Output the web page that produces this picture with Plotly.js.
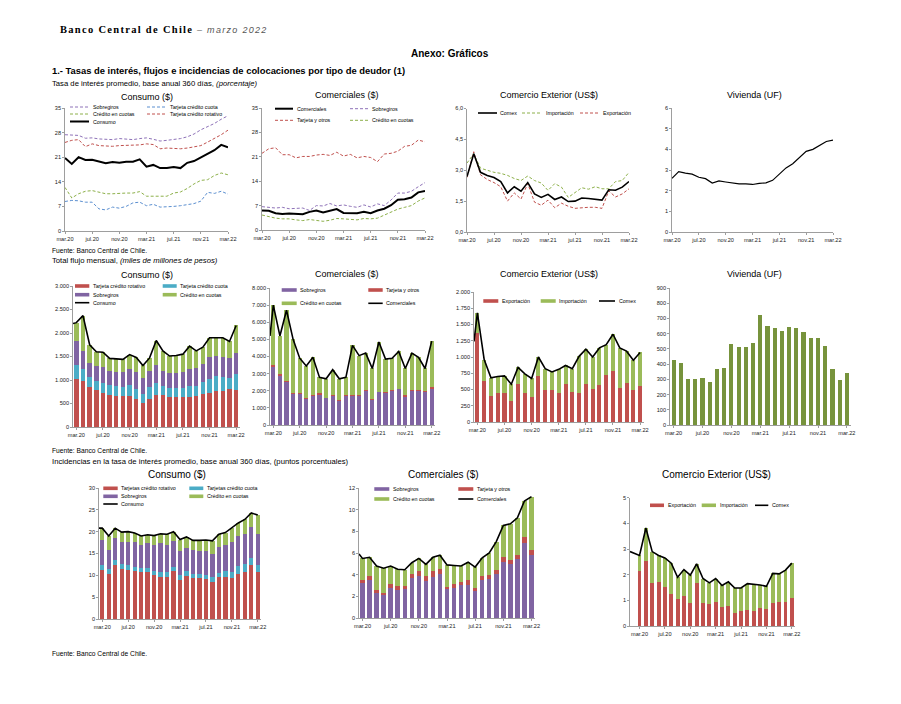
<!DOCTYPE html>
<html><head><meta charset="utf-8">
<script src="https://cdn.plot.ly/plotly-3.0.1.min.js"></script>
<style>html,body{margin:0;padding:0;background:#fff;}#chart{width:901px;height:704px;}</style>
</head><body><div id="chart"></div>
<script>
// ---------- categories ----------
const months = ['mar.20','abr.20','may.20','jun.20','jul.20','ago.20','sep.20','oct.20','nov.20','dic.20','ene.21','feb.21',
  'mar.21','abr.21','may.21','jun.21','jul.21','ago.21','sep.21','oct.21','nov.21','dic.21','ene.22','feb.22','mar.22'];
const tickIdx = [0,4,8,12,16,20,24];

// ---------- Tasas de interés (porcentaje) ----------
const consRateSobregiros = [27.4,27.4,27.2,26.4,26.5,26.2,26.0,26.0,26.3,26.1,26.0,26.3,26.5,26.1,25.6,25.8,26.0,26.3,26.8,27.6,28.8,29.6,30.6,31.8,32.8];
const consRateTjCuota = [8.4,8.7,8.6,8.2,8.2,6.3,6.0,6.8,6.5,7.0,8.0,8.2,7.2,7.6,6.8,6.8,7.0,7.2,7.6,7.8,8.5,11.0,10.7,11.3,10.5];
const consRateCuotas = [12.4,9.4,10.6,11.3,11.5,11.1,10.6,10.6,10.8,10.8,10.8,11.2,9.9,9.9,9.7,9.9,10.8,11.1,12.1,13.4,14.4,14.6,15.8,16.5,16.0];
const consRateTjRotativo = [25.2,25.8,26.0,24.0,24.8,24.3,24.2,24.1,24.3,24.4,24.3,24.5,24.8,24.6,23.4,23.6,23.5,23.4,23.6,24.0,24.3,25.3,26.3,27.4,28.7];
const consRateConsumo = [20.8,19.1,21.0,20.2,20.3,19.9,19.3,19.6,19.4,19.7,19.7,20.4,18.3,18.8,17.9,17.9,18.2,17.9,19.4,19.9,21.0,22.0,23.0,24.5,23.8];

const comRateComerciales = [5.6,5.5,4.8,4.6,4.7,4.5,4.5,5.2,5.6,5.0,5.6,6.0,4.9,4.9,4.8,5.2,4.8,5.6,6.1,7.1,8.7,8.8,9.3,10.8,11.2];
const comRateSobregiros = [6.7,6.5,6.3,6.5,6.1,6.2,6.3,5.6,7.0,6.9,7.6,6.9,7.2,6.8,6.5,7.2,6.6,7.5,7.0,8.6,10.6,10.6,11.1,12.4,13.6];
const comRateTarjeta = [22.0,23.3,23.6,21.6,21.6,20.7,21.1,21.1,21.5,21.7,21.4,22.3,21.2,21.7,20.7,21.1,20.8,19.6,21.8,22.0,22.6,24.0,24.3,25.8,25.3];
const comRateCuotas = [4.3,3.8,3.4,3.2,3.2,2.9,2.7,3.0,2.7,2.5,2.8,3.3,3.2,3.1,2.9,3.3,3.2,3.4,4.3,5.2,6.0,6.5,7.0,8.3,9.2];

const cxRateComex = [2.70,3.80,2.90,2.75,2.65,2.45,1.90,2.20,1.98,2.40,1.85,1.68,1.83,1.58,1.70,1.48,1.50,1.65,1.63,1.60,1.55,2.05,2.03,2.18,2.45];
const cxRateImport = [3.35,3.80,3.10,3.00,2.90,2.85,2.75,2.60,2.50,2.72,2.50,2.38,2.02,2.35,2.18,1.68,1.90,2.15,2.08,2.20,2.10,2.10,2.45,2.50,2.90];
const cxRateExport = [2.65,3.90,2.78,2.55,2.40,2.20,1.50,1.90,1.60,2.35,1.45,1.30,1.55,1.18,1.40,1.25,1.15,1.18,1.20,1.20,1.15,2.00,1.70,1.85,2.10];

const vivRate = [2.60,2.92,2.85,2.80,2.65,2.58,2.37,2.47,2.42,2.38,2.33,2.33,2.30,2.35,2.38,2.50,2.80,3.10,3.30,3.60,3.90,4.00,4.20,4.38,4.45];

// ---------- Total flujo mensual (miles de millones) ----------
const consFlowTjRotativo = [1030,970,860,790,730,690,650,650,650,590,520,590,680,680,630,630,630,640,670,700,720,770,770,810,790];
const consFlowTjCuota = [290,260,210,190,210,200,220,210,240,220,190,270,260,200,210,210,210,240,210,260,310,310,300,240,340];
const consFlowSobregiros = [500,380,300,310,330,310,300,310,350,370,330,330,380,320,300,300,320,350,370,370,450,430,410,410,450];
const consFlowCuotas = [400,760,380,310,320,260,280,270,300,300,270,280,520,420,370,380,390,490,370,370,420,390,420,360,580];
const consFlowTotal = [2220,2370,1750,1600,1590,1460,1450,1440,1540,1480,1310,1470,1840,1620,1510,1520,1550,1720,1620,1700,1900,1900,1900,1820,2160];
const consFlowPrev = 2200;

const comFlowSobregiros = [3400,2850,2500,1800,1800,1500,1700,1780,1550,1700,1400,1700,1700,1680,2000,1480,1900,1880,2000,2080,1650,1980,1980,1920,2100];
const comFlowTarjeta = [100,100,80,50,80,50,60,80,30,50,50,50,80,70,50,50,50,50,60,50,80,70,80,60,100];
const comFlowCuotas = [3500,2250,4120,3150,2020,1900,2190,920,1120,1480,1250,1030,2870,2300,2150,1770,2900,1920,1840,2170,1570,2150,1890,1320,2700];
const comFlowTotal = [7000,5200,6700,5000,3900,3450,3950,2780,2700,3230,2700,2780,4650,4050,4200,3300,4850,3850,3900,4300,3300,4200,3950,3300,4900];
const comFlowPrev = 5200;

const cxFlowExport = [1370,630,400,450,450,330,590,450,390,710,500,500,450,590,460,440,590,510,570,720,790,520,600,490,560];
const cxFlowImport = [310,330,280,250,260,250,250,290,280,290,320,270,360,280,360,570,530,490,570,470,560,620,490,460,510];
const cxFlowTotal = [1680,960,680,700,710,580,840,740,670,1000,820,770,810,870,820,1010,1120,1000,1140,1190,1350,1140,1090,950,1070];
const cxFlowPrev = 1240;

const vivFlow = [425,410,305,300,310,280,370,375,530,510,515,540,725,650,635,618,645,638,612,572,572,518,365,295,340];

// ---------- Incidencias (puntos porcentuales) ----------
const consIncTjRotativo = [11.2,10.4,12.4,11.5,11.3,11.1,10.8,10.8,10.0,9.6,9.6,11.0,9.0,9.9,9.3,9.4,9.1,8.5,9.6,9.7,9.4,10.4,10.8,12.3,10.7];
const consIncTjCuota = [1.2,1.0,1.2,1.1,1.0,0.9,0.8,0.9,0.9,1.2,1.2,0.9,1.1,1.1,1.1,1.0,1.0,1.1,0.9,1.2,1.3,1.7,1.8,1.6,1.7];
const consIncSobregiros = [5.8,4.5,5.0,5.1,5.4,5.6,5.3,5.6,6.0,6.5,6.1,5.9,5.5,5.3,5.3,5.2,5.5,5.4,6.0,6.0,6.9,6.8,6.9,7.1,7.1];
const consIncCuotas = [2.6,3.1,2.2,2.2,2.3,2.1,2.1,2.0,2.2,2.2,2.5,2.2,2.6,2.5,2.3,2.4,2.5,2.9,2.9,2.9,3.3,3.1,3.3,3.3,4.3];
const consIncTotal = [20.8,19.0,20.8,19.9,20.0,19.7,19.0,19.3,19.1,19.5,19.4,20.0,18.2,18.8,18.0,18.0,18.1,17.9,19.4,19.8,20.9,22.0,22.8,24.3,23.8];
const consIncPrev = 20.8;

const comIncSobregiros = [3.2,3.5,2.3,2.1,2.75,2.6,2.65,3.7,3.85,3.45,3.8,4.05,2.65,2.75,3.05,3.05,2.5,3.5,3.6,4.05,5.2,4.95,5.45,6.95,5.8];
const comIncTarjeta = [0.3,0.35,0.25,0.25,0.35,0.4,0.3,0.4,0.45,0.4,0.5,0.45,0.25,0.35,0.25,0.45,0.25,0.35,0.35,0.35,0.45,0.4,0.4,0.5,0.45];
const comIncCuotas = [2.0,1.75,2.25,2.25,1.7,1.5,1.5,1.0,1.2,1.1,1.3,1.3,2.0,1.75,1.5,1.65,1.95,1.7,2.05,2.65,2.9,3.35,3.4,3.35,4.95];
const comIncTotal = [5.5,5.6,4.8,4.6,4.8,4.5,4.45,5.1,5.5,4.95,5.6,5.8,4.9,4.85,4.8,5.15,4.7,5.55,6.0,7.05,8.55,8.7,9.25,10.8,11.2];
const comIncPrev = 5.9;

const cxIncExport = [2.15,2.55,1.68,1.72,1.52,1.25,1.05,1.18,0.90,1.66,0.88,0.87,0.92,0.75,0.78,0.52,0.60,0.62,0.60,0.72,0.67,0.90,0.92,0.95,1.10];
const cxIncImport = [0.60,1.27,1.22,1.03,1.13,1.20,0.85,1.02,1.08,0.76,0.97,0.81,0.93,0.83,0.94,0.96,0.88,1.03,1.03,0.88,0.88,1.15,1.11,1.23,1.35];
const cxIncTotal = [2.75,3.82,2.90,2.75,2.65,2.45,1.90,2.20,1.98,2.42,1.85,1.68,1.85,1.58,1.72,1.48,1.48,1.65,1.63,1.60,1.55,2.05,2.03,2.18,2.45];
const cxIncPrev = 2.9;

// ---------- styling ----------
const C = {red:'#C0504D', cyan:'#4BACC6', purple:'#8064A2', green:'#9BBB59', blue:'#4F81BD', olive:'#77933C', black:'#000000',
  dpurple:'#8E72B8', dred:'#C0504D', dgreen:'#8DB04A', dblue:'#5B8FD0'};
const FONT = 'Liberation Sans, Arial, sans-serif';
const W = 901, H = 704;
const X = v => v / W;
const Y = v => 1 - v / H;
const idx = months.map((m, i) => i);
const tickText = tickIdx.map(i => months[i]);
const DASH = '3px,2px';

const layout = {
  width: W, height: H, margin: {l:0, r:0, t:0, b:0}, paper_bgcolor:'#fff', plot_bgcolor:'rgba(0,0,0,0)',
  showlegend:false, barmode:'stack', separators:',.', font:{family:FONT, color:'#000'},
  annotations:[], shapes:[]
};
const traces = [];

function ax(n, box, xRange, yRange, dtick, fmt) {
  const xs = n === 1 ? 'xaxis' : 'xaxis' + n, ys = n === 1 ? 'yaxis' : 'yaxis' + n;
  const common = {showline:true, linecolor:'#868686', linewidth:0.8, ticks:'outside', ticklen:2, tickcolor:'#868686', tickwidth:0.8,
    tickfont:{size:5.6, color:'#222', family:FONT}, showgrid:false, zeroline:false, fixedrange:true};
  layout[xs] = Object.assign({}, common, {domain:[X(box.l), X(box.r)], range:xRange, anchor: n===1?'y':'y'+n,
    tickmode:'array', tickvals:tickIdx, ticktext:tickText});
  layout[ys] = Object.assign({}, common, {domain:[Y(box.b), Y(box.t)], range:yRange, anchor: n===1?'x':'x'+n,
    tick0:0, dtick:dtick, tickformat:fmt});
  return {xaxis: n===1?'x':'x'+n, yaxis: n===1?'y':'y'+n};
}
function line(a, y, color, width, dash, name, xs) {
  traces.push(Object.assign({type:'scatter', mode:'lines', x: xs || idx, y:y, name:name, hoverinfo:'skip',
    line:{color:color, width:width, dash:dash || 'solid'}}, a));
}
function bar(a, y, color, width, name) {
  traces.push(Object.assign({type:'bar', x:idx, y:y, name:name, width:width, marker:{color:color, line:{width:0}}, hoverinfo:'skip'}, a));
}
function txt(x, y, t, size, opt) {
  layout.annotations.push(Object.assign({xref:'paper', yref:'paper', x:X(x), y:Y(y), text:t, showarrow:false,
    xanchor:'left', yanchor:'middle', font:{size:size, family:FONT, color:'#000'}}, opt || {}));
}
function title(cx, y, t, size) { txt(cx, y, t, size, {xanchor:'center'}); }
function leg(kind, color, x0, x1, y, label, dash, lw) {
  if (kind === 'box') {
    layout.shapes.push({type:'rect', xref:'paper', yref:'paper', x0:X(x0), x1:X(x1), y0:Y(y+1.8), y1:Y(y-1.8), fillcolor:color, line:{width:0}});
  } else {
    layout.shapes.push({type:'line', xref:'paper', yref:'paper', x0:X(x0), x1:X(x1), y0:Y(y), y1:Y(y), line:{color:color, width:lw || 1, dash:dash || 'solid'}});
  }
  txt(x1 + 1.5, y, label, 5.3);
}

// ---------- header ----------
txt(58, 29.5, '<span style="letter-spacing:1.3px"><b>Banco Central de Chile</b></span>', 10.5, {font:{size:10.5, family:'Liberation Serif, Times New Roman, serif', color:'#000'}});
txt(194, 29.8, '<span style="letter-spacing:1.3px"><i>– marzo 2022</i></span>', 9, {font:{size:9, family:FONT, color:'#555'}});
title(450, 53, '<b>Anexo: Gráficos</b>', 10);
txt(50, 70.5, '<b>1.- Tasas de interés, flujos e incidencias de colocaciones por tipo de deudor (1)</b>', 9.4);
txt(50, 83.3, 'Tasa de interés promedio, base anual 360 días, <i>(porcentaje)</i>', 7.7);
txt(50, 250.5, 'Fuente: Banco Central de Chile.', 6.7);
txt(50, 260.5, 'Total flujo mensual, <i>(miles de millones de pesos)</i>', 7.7);
txt(50, 450.5, 'Fuente: Banco Central de Chile.', 6.7);
txt(50, 461, 'Incidencias en la tasa de interés promedio, base anual 360 días, (puntos porcentuales)', 7.7);
txt(50, 653, 'Fuente: Banco Central de Chile.', 6.7);

// ---------- Row 1: tasas ----------
let a = ax(1, {l:65, r:228, t:108, b:231}, [0,24], [0,35], 7, 'd');
line(a, consRateSobregiros, C.dpurple, 1, DASH, 'Sobregiros');
line(a, consRateTjCuota, C.dblue, 1, DASH, 'Tarjeta crédito cuota');
line(a, consRateCuotas, C.dgreen, 1, DASH, 'Crédito en cuotas');
line(a, consRateTjRotativo, C.dred, 1, DASH, 'Tarjeta crédito rotativo');
line(a, consRateConsumo, C.black, 2, 'solid', 'Consumo');
title(146.5, 96.5, 'Consumo ($)', 9);
leg('line', C.dpurple, 70, 89, 107, 'Sobregiros', DASH);
leg('line', C.dblue, 147, 166.5, 107, 'Tarjeta crédito cuota', DASH);
leg('line', C.dgreen, 70, 89, 114, 'Crédito en cuotas', DASH);
leg('line', C.dred, 147, 166.5, 114, 'Tarjeta crédito rotativo', DASH);
leg('line', C.black, 70, 89, 121.5, 'Consumo', 'solid', 2);

a = ax(2, {l:262, r:425, t:108, b:230}, [0,24], [0,35], 7, 'd');
line(a, comRateTarjeta, C.dred, 1, DASH, 'Tarjeta y otros');
line(a, comRateSobregiros, C.dpurple, 1, DASH, 'Sobregiros');
line(a, comRateCuotas, C.dgreen, 1, DASH, 'Crédito en cuotas');
line(a, comRateComerciales, C.black, 2, 'solid', 'Comerciales');
title(347, 95.5, 'Comerciales ($)', 9);
leg('line', C.black, 275, 293, 108.7, 'Comerciales', 'solid', 2);
leg('line', C.dpurple, 350, 368, 108.7, 'Sobregiros', DASH);
leg('line', C.dred, 275, 293, 120.3, 'Tarjeta y otros', DASH);
leg('line', C.dgreen, 350, 368, 120.3, 'Crédito en cuotas', DASH);

a = ax(3, {l:467, r:629, t:108.5, b:232}, [0,24], [0,6], 1.5, '.1f');
line(a, cxRateImport, C.dgreen, 1, DASH, 'Importación');
line(a, cxRateExport, C.dred, 1, DASH, 'Exportación');
line(a, cxRateComex, C.black, 1.6, 'solid', 'Comex');
title(548.5, 95.5, 'Comercio Exterior (US$)', 9);
leg('line', C.black, 478, 497, 113, 'Comex', 'solid', 1.6);
leg('line', C.dgreen, 522, 542, 113, 'Importación', DASH);
leg('line', C.dred, 580, 599, 113, 'Exportación', DASH);

a = ax(4, {l:672, r:833, t:108, b:232}, [0,24], [0,6], 1, 'd');
line(a, vivRate, C.black, 1.2, 'solid', 'Vivienda');
title(754, 95.5, 'Vivienda (UF)', 9);

// ---------- Row 2: flujos ----------
a = ax(5, {l:73, r:239.5, t:286, b:427}, [-0.5,24.5], [0,3000], 500, ',d');
bar(a, consFlowTjRotativo, C.red, 0.66, 'Tarjeta crédito rotativo');
bar(a, consFlowTjCuota, C.cyan, 0.66, 'Tarjeta crédito cuota');
bar(a, consFlowSobregiros, C.purple, 0.66, 'Sobregiros');
bar(a, consFlowCuotas, C.green, 0.66, 'Crédito en cuotas');
line(a, [consFlowPrev].concat(consFlowTotal), C.black, 1.6, 'solid', 'Consumo', [-0.5].concat(idx));
title(146.7, 274.7, 'Consumo ($)', 9);
leg('box', C.red, 75, 89.3, 286, 'Tarjeta crédito rotativo');
leg('box', C.cyan, 162.7, 176.7, 286, 'Tarjeta crédito cuota');
leg('box', C.purple, 75, 89.3, 294.7, 'Sobregiros');
leg('box', C.green, 162.7, 176.7, 294.7, 'Crédito en cuotas');
leg('line', C.black, 75, 89.3, 302.7, 'Consumo', 'solid', 1.6);

a = ax(6, {l:270, r:435, t:288, b:425}, [-0.5,24.5], [0,8000], 1000, ',d');
bar(a, comFlowSobregiros, C.purple, 0.64, 'Sobregiros');
bar(a, comFlowTarjeta, C.red, 0.64, 'Tarjeta y otros');
bar(a, comFlowCuotas, C.green, 0.64, 'Crédito en cuotas');
line(a, [comFlowPrev].concat(comFlowTotal), C.black, 1.6, 'solid', 'Comerciales', [-0.5].concat(idx));
title(347, 274.3, 'Comerciales ($)', 9);
leg('box', C.purple, 281.7, 296.7, 290, 'Sobregiros');
leg('box', C.red, 368.3, 382.7, 290, 'Tarjeta y otros');
leg('box', C.green, 281.7, 296.7, 303.3, 'Crédito en cuotas');
leg('line', C.black, 368.3, 382.7, 303.3, 'Comerciales', 'solid', 1.6);

a = ax(7, {l:474, r:643.5, t:292, b:422}, [-0.5,24.5], [0,2000], 250, ',d');
bar(a, cxFlowExport, C.red, 0.6, 'Exportación');
bar(a, cxFlowImport, C.green, 0.6, 'Importación');
line(a, [cxFlowPrev].concat(cxFlowTotal), C.black, 1.6, 'solid', 'Comex', [-0.5].concat(idx));
title(548.7, 274.3, 'Comercio Exterior (US$)', 9);
leg('box', C.red, 483.3, 498.3, 301, 'Exportación');
leg('box', C.green, 540.7, 555.7, 301, 'Importación');
leg('line', C.black, 599, 615, 301, 'Comex', 'solid', 1.6);

a = ax(8, {l:670, r:850.5, t:288, b:425}, [-0.5,24.5], [0,900], 100, 'd');
bar(a, vivFlow, C.olive, 0.58, 'Vivienda');
title(754, 274, 'Vivienda (UF)', 9);

// ---------- Row 3: incidencias ----------
a = ax(9, {l:99, r:261, t:488, b:619}, [-0.5,24.5], [0,30], 5, 'd');
bar(a, consIncTjRotativo, C.red, 0.66, 'Tarjetas crédito rotativo');
bar(a, consIncTjCuota, C.cyan, 0.66, 'Tarjetas crédito cuota');
bar(a, consIncSobregiros, C.purple, 0.66, 'Sobregiros');
bar(a, consIncCuotas, C.green, 0.66, 'Crédito en cuotas');
line(a, [consIncPrev].concat(consIncTotal), C.black, 1.6, 'solid', 'Consumo', [-0.5].concat(idx));
title(176.7, 474, 'Consumo ($)', 10);
leg('box', C.red, 103.3, 117.7, 488.3, 'Tarjetas crédito rotativo');
leg('box', C.cyan, 189.3, 203.3, 488.3, 'Tarjetas crédito cuota');
leg('box', C.purple, 103.3, 117.7, 496.3, 'Sobregiros');
leg('box', C.green, 189.3, 203.3, 496.3, 'Crédito en cuotas');
leg('line', C.black, 103.3, 117.7, 504, 'Consumo', 'solid', 1.6);

a = ax(10, {l:359, r:535, t:488, b:618}, [-0.5,24.5], [0,12], 2, 'd');
bar(a, comIncSobregiros, C.purple, 0.64, 'Sobregiros');
bar(a, comIncTarjeta, C.red, 0.64, 'Tarjeta y otros');
bar(a, comIncCuotas, C.green, 0.64, 'Crédito en cuotas');
line(a, [comIncPrev].concat(comIncTotal), C.black, 1.6, 'solid', 'Comerciales', [-0.5].concat(idx));
title(443, 474, 'Comerciales ($)', 10);
leg('box', C.purple, 374.3, 389.3, 489, 'Sobregiros');
leg('box', C.red, 458.3, 473.3, 489, 'Tarjeta y otros');
leg('box', C.green, 374.3, 389.3, 499, 'Crédito en cuotas');
leg('line', C.black, 458.3, 473.3, 499, 'Comerciales', 'solid', 1.6);

a = ax(11, {l:630, r:795, t:497.7, b:626}, [-1.5,24.5], [0,5], 1, 'd');
bar(a, cxIncExport, C.red, 0.62, 'Exportación');
bar(a, cxIncImport, C.green, 0.62, 'Importación');
line(a, [cxIncPrev].concat(cxIncTotal), C.black, 1.6, 'solid', 'Comex', [-1.5].concat(idx));
title(716.7, 474, 'Comercio Exterior (US$)', 10);
leg('box', C.red, 650, 664, 505.3, 'Exportación');
leg('box', C.green, 701.7, 716, 505.3, 'Importación');
leg('line', C.black, 755, 768.3, 505.3, 'Comex', 'solid', 1.6);

Plotly.newPlot('chart', traces, layout, {staticPlot:true, displayModeBar:false});
</script>
</body></html>
